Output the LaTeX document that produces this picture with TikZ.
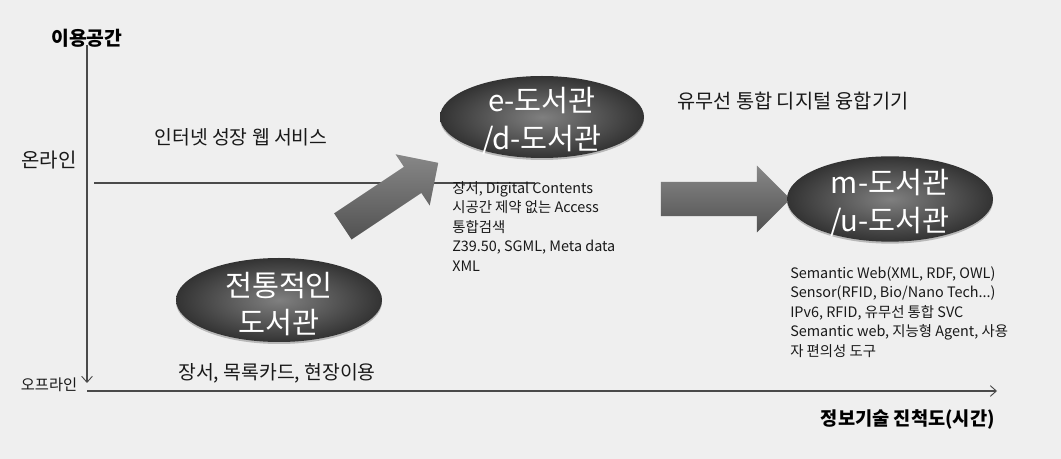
\documentclass[tikz,border=0pt]{standalone}
\usepackage{fontspec}
\setmainfont{Noto Sans CJK KR}
\usetikzlibrary{shapes.geometric,shapes.arrows,arrows.meta}
\definecolor{bgcol}{HTML}{EFEFEF}
\definecolor{axiscol}{HTML}{4A4A4A}
\tikzset{
  axis/.style={draw=axiscol, line width=0.9pt},
  axisarrow/.style={axis, -{Straight Barb[length=4.5pt,width=8pt,line width=0.7pt]}},
  libell/.style={ellipse, inner sep=0pt, draw=none,
    shading=radial, inner color=black!50, outer color=black!80},
  libshadow/.style={ellipse, inner sep=0pt, draw=none, fill=black!28},
  libtext/.style={text=white, font=\fontsize{22}{28}\selectfont, align=center, inner sep=0pt},
  blockarrow/.style={single arrow, draw=none, minimum width=0pt,
    top color=black!47, bottom color=black!68},
  label13/.style={font=\fontsize{14.5}{17}\selectfont, inner sep=0pt, text=black!90},
  smalltext/.style={font=\fontsize{10.8}{14.7}\selectfont, align=left, inner sep=0pt, text=black!90},
  titletext/.style={font=\bfseries\fontsize{14.5}{17}\selectfont, inner sep=0pt}
}
\begin{document}
\begin{tikzpicture}[x=0.75pt,y=-0.75pt]
\useasboundingbox (0,0) rectangle (1061,459);
\fill[bgcol] (0,0) rectangle (1061,459);

% axes
\coordinate (ytop) at (87,45);
\coordinate (ybot) at (87,383);
\coordinate (xleft) at (87,391);
\coordinate (xright) at (997,391);
\coordinate (onl) at (94,183);
\coordinate (onr) at (535,183);
\draw[axisarrow] (ytop) -- (ybot);
\draw[axisarrow] (xleft) -- (xright);
\draw[axis] (onl) -- (onr);

% axis labels
\node[titletext] (ytitle) at (87,38) {이용공간};
\node[titletext, font=\bfseries\fontsize{14}{17}\selectfont, anchor=east] (xtitle) at (995,420) {정보기술 진척도(시간)};
\node[label13, font=\fontsize{15}{17}\selectfont] (online) at (49,160) {온라인};
\node[label13, font=\fontsize{11.5}{13}\selectfont] (offline) at (49,385) {오프라인};

% labels
\node[label13] (web) at (241,137) {인터넷 성장 웹 서비스};
\node[label13] (tradlbl) at (277,373) {장서, 목록카드, 현장이용};
\node[label13, font=\fontsize{14.8}{17}\selectfont, anchor=west] (wired) at (677,101) {유무선 통합 디지털 융합기기};

% arrows
\node[blockarrow, minimum height=86pt, inner sep=11.6pt, single arrow head extend=11.3pt, rotate=33.7] (arr1) at (384,199) {};
\node[blockarrow, minimum height=97pt, inner sep=12.7pt, single arrow head extend=12.2pt] (arr2) at (717,199) {};

% ellipses
\node[libshadow, minimum width=154.5pt, minimum height=63pt] (tradsh) at (279,302) {};
\node[libell, minimum width=154.5pt, minimum height=63pt] (trad) at (279,300) {};
\node[libtext] (tradtxt) at ([yshift=-3pt]trad.center) {전통적인\\도서관};

\node[libshadow, minimum width=153pt, minimum height=61.5pt] (elibsh) at (542,119) {};
\node[libell, minimum width=153pt, minimum height=61.5pt] (elib) at (542,117) {};
\node[libtext] (elibtxt) at ([yshift=-3pt]elib.center) {e-도서관\\/d-도서관};

\node[libshadow, minimum width=154.5pt, minimum height=64pt] (mlibsh) at (890,201) {};
\node[libell, minimum width=154.5pt, minimum height=64pt] (mlib) at (890,199) {};
\node[libtext] (mlibtxt) at ([yshift=-3pt]mlib.center) {m-도서관\\/u-도서관};

% text blocks
\node[smalltext, anchor=north west] (etext) at (452,181) {장서, Digital Contents\\시공간 제약 없는 Access\\통합검색\\Z39.50, SGML, Meta data\\XML};
\node[smalltext, anchor=north west] (mtext) at (790,266) {Semantic Web(XML, RDF, OWL)\\Sensor(RFID, Bio/Nano Tech...)\\IPv6, RFID, 유무선 통합 SVC\\Semantic web, 지능형 Agent, 사용\\자 편의성 도구};
\end{tikzpicture}
\end{document}
